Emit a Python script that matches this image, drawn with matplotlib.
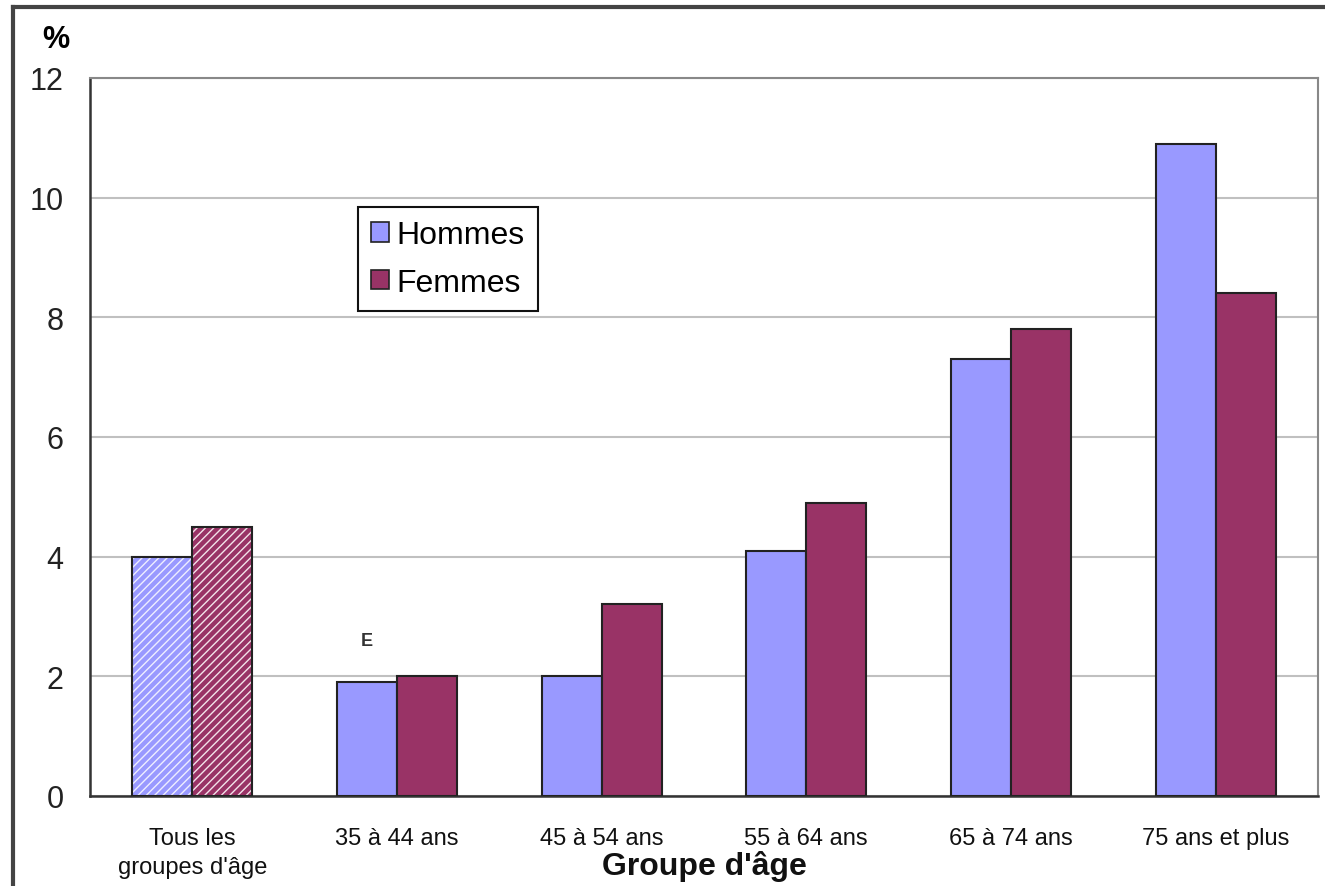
import matplotlib.pyplot as plt
import numpy as np
from matplotlib.lines import Line2D

# prevalence by age group (%)
groupes = ['Tous les\ngroupes d\'âge', '35 à 44 ans', '45 à 54 ans',
           '55 à 64 ans', '65 à 74 ans', '75 ans et plus']
hommes = [4.0, 1.9, 2.0, 4.1, 7.3, 10.9]
femmes = [4.5, 2.0, 3.2, 4.9, 7.8, 8.4]
yticks = [0, 2, 4, 6, 8, 10, 12]

plt.rcParams['font.family'] = ['Liberation Sans', 'DejaVu Sans']
plt.rcParams['hatch.linewidth'] = 1.0

c_h = '#9999FF'
c_f = '#993366'
w = 0.293

fig = plt.figure(figsize=(13.25, 8.87), dpi=100)
ax = fig.add_axes([0.0679, 0.1015, 0.9268, 0.8095])

x = np.arange(len(groupes))
# first group ("all ages") is hatched, others solid
for i in range(len(groupes)):
    if i == 0:
        ax.bar(x[i] - w / 2, hommes[i], w, color=c_h, hatch='////', edgecolor='#eeeeff', linewidth=0, zorder=2)
        ax.bar(x[i] + w / 2, femmes[i], w, color=c_f, hatch='////', edgecolor='#f3e3ea', linewidth=0, zorder=2)
        ax.bar(x[i] - w / 2, hommes[i], w, fill=False, edgecolor='#222222', linewidth=1.5, zorder=3)
        ax.bar(x[i] + w / 2, femmes[i], w, fill=False, edgecolor='#222222', linewidth=1.5, zorder=3)
    else:
        ax.bar(x[i] - w / 2, hommes[i], w, color=c_h, edgecolor='#222222', linewidth=1.5, zorder=3)
        ax.bar(x[i] + w / 2, femmes[i], w, color=c_f, edgecolor='#222222', linewidth=1.5, zorder=3)

# "E" flag: use with caution
ax.annotate('E', (x[1] - w / 2, hommes[1]), xytext=(0, 30), textcoords='offset points',
            ha='center', va='center', fontsize=13, fontweight='bold', color='#333333')

ax.set_xlim(-0.5, len(groupes) - 0.5)
ax.set_ylim(0, 12)
ax.set_yticks(yticks)
ax.set_yticklabels([str(v) for v in yticks], fontsize=22, color='#222222')
ax.set_xticks(x)
ax.set_xticklabels(groupes, fontsize=17, color='#111111', linespacing=1.45)
ax.tick_params(axis='both', length=0)
ax.tick_params(axis='y', pad=19)
ax.tick_params(axis='x', pad=22)
ax.grid(axis='y', color='#c0c0c0', linewidth=1.5, zorder=0)
ax.set_axisbelow(True)

for s in ['top', 'right']:
    ax.spines[s].set_color('#888888')
    ax.spines[s].set_linewidth(1.5)
for s in ['left', 'bottom']:
    ax.spines[s].set_color('#333333')
    ax.spines[s].set_linewidth(1.8)

ax.set_xlabel("Groupe d'âge", fontsize=23, fontweight='bold', color='#111111')
ax.xaxis.set_label_coords(0.5, -0.075)

fig.text(0.042, 0.955, '%', fontsize=22, fontweight='bold', ha='center', va='center')

handles = [plt.Rectangle((0, 0), 1, 1, facecolor=c_h, edgecolor='#222222', linewidth=1.2),
           plt.Rectangle((0, 0), 1, 1, facecolor=c_f, edgecolor='#222222', linewidth=1.2)]
leg = fig.legend(handles, ['Hommes', 'Femmes'], loc='upper left',
                 bbox_to_anchor=(0.270, 0.7655), borderaxespad=0, fontsize=23,
                 fancybox=False, framealpha=1, edgecolor='#111111',
                 handlelength=0.55, handleheight=0.55, handletextpad=0.25,
                 labelspacing=0.55, borderpad=0.42)
leg.get_frame().set_linewidth(1.5)

# outer frame, runs off the right and bottom edges
fig.add_artist(Line2D([13 / 1325, 13 / 1325], [0, 1 - 8 / 887], color='#444444', linewidth=3,
                      transform=fig.transFigure))
fig.add_artist(Line2D([13 / 1325, 1], [1 - 8 / 887, 1 - 8 / 887], color='#444444', linewidth=3,
                      transform=fig.transFigure))

fig.savefig('out.png', dpi=100)
